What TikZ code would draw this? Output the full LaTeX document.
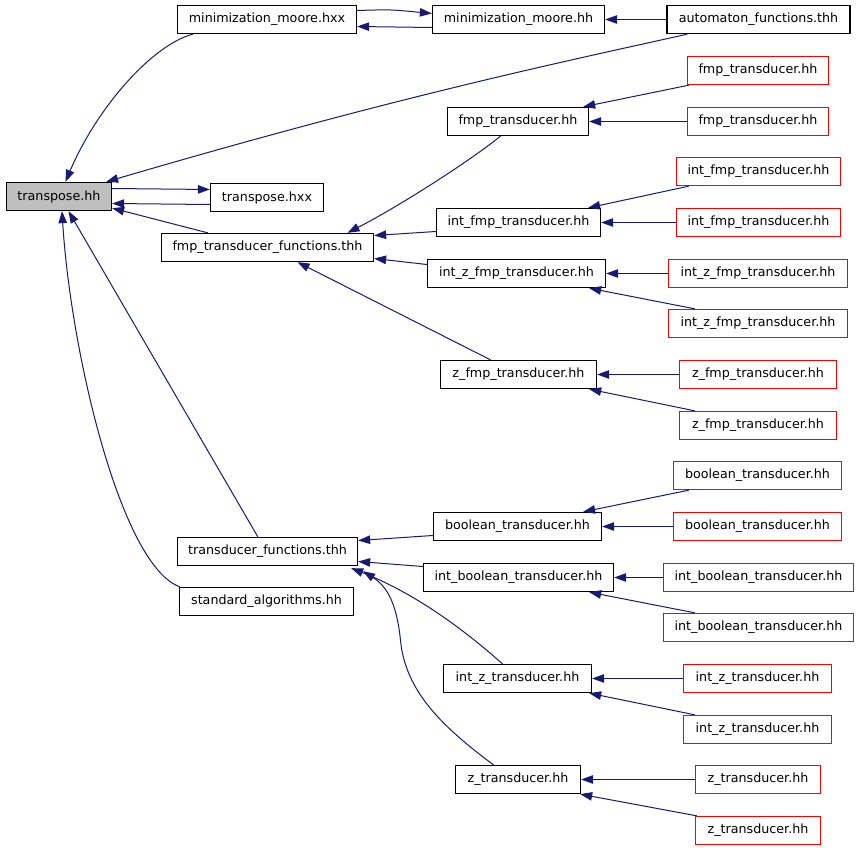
\documentclass[tikz,border=0pt]{standalone}
\usepackage{fontspec}
\setmainfont{DejaVu Sans}
\usetikzlibrary{arrows.meta}
\definecolor{edgeblue}{RGB}{25,25,112}
\definecolor{boxred}{RGB}{255,0,0}
\begin{document}
\begin{tikzpicture}[x=1pt,y=-1pt,
  box/.style={draw=black, line width=1.3pt, fill=white, minimum height=28pt, inner sep=0pt, font=\fontsize{12.7}{15}\selectfont},
  redbox/.style={box, draw=boxred},
  edge/.style={draw=edgeblue, line width=1pt, -{Triangle[length=12pt,width=8.5pt]}}]
\useasboundingbox (-0.5,-0.5) rectangle (858.5,847.5);
% nodes
\node[box, fill=black!25, minimum width=105pt] (tr) at (58.5,196) {transpose.hh};
\node[box, minimum width=179pt] (mmhxx) at (266.5,19) {minimization\_moore.hxx};
\node[box, minimum width=172pt] (mmhh) at (518,19) {minimization\_moore.hh};
\node[box, minimum width=183pt] (aft) at (758,19) {automaton\_functions.thh};
\node[box, minimum width=113pt] (trhxx) at (266.5,197) {transpose.hxx};
\node[box, minimum width=212pt] (fmpfun) at (267,247) {fmp\_transducer\_functions.thh};
\node[box, minimum width=180pt] (trfun) at (267,551) {transducer\_functions.thh};
\node[box, minimum width=174pt] (std) at (266,601) {standard\_algorithms.hh};

\node[box, minimum width=141pt] (fmpB) at (517.5,121) {fmp\_transducer.hh};
\node[redbox, minimum width=141pt] (fmpR1) at (757.5,70) {fmp\_transducer.hh};
\node[redbox, minimum width=141pt] (fmpR2) at (757.5,121) {fmp\_transducer.hh};

\node[box, minimum width=164pt] (intfmpB) at (518,222) {int\_fmp\_transducer.hh};
\node[redbox, minimum width=164pt] (intfmpR1) at (758,171) {int\_fmp\_transducer.hh};
\node[redbox, minimum width=164pt] (intfmpR2) at (758,222) {int\_fmp\_transducer.hh};

\node[box, minimum width=178pt] (intzfmpB) at (516,273) {int\_z\_fmp\_transducer.hh};
\node[redbox, minimum width=179pt] (intzfmpR1) at (757.5,273) {int\_z\_fmp\_transducer.hh};
\node[redbox, minimum width=179pt] (intzfmpR2) at (757.5,323) {int\_z\_fmp\_transducer.hh};

\node[box, minimum width=156pt] (zfmpB) at (518,374) {z\_fmp\_transducer.hh};
\node[redbox, minimum width=157pt] (zfmpR1) at (757.5,374) {z\_fmp\_transducer.hh};
\node[redbox, minimum width=157pt] (zfmpR2) at (757.5,425) {z\_fmp\_transducer.hh};

\node[box, minimum width=168pt] (boolB) at (517,526) {boolean\_transducer.hh};
\node[redbox, minimum width=168pt] (boolR1) at (757,475) {boolean\_transducer.hh};
\node[redbox, minimum width=168pt] (boolR2) at (757,526) {boolean\_transducer.hh};

\node[box, minimum width=190pt] (intboolB) at (518,577) {int\_boolean\_transducer.hh};
\node[redbox, minimum width=190pt] (intboolR1) at (758,577) {int\_boolean\_transducer.hh};
\node[redbox, minimum width=190pt] (intboolR2) at (758,627) {int\_boolean\_transducer.hh};

\node[box, minimum width=148pt] (intzB) at (517,678) {int\_z\_transducer.hh};
\node[redbox, minimum width=148pt] (intzR1) at (757,678) {int\_z\_transducer.hh};
\node[redbox, minimum width=148pt] (intzR2) at (757,729) {int\_z\_transducer.hh};

\node[box, minimum width=125pt] (zB) at (517.5,779) {z\_transducer.hh};
\node[redbox, minimum width=125pt] (zR1) at (757.5,779) {z\_transducer.hh};
\node[redbox, minimum width=125pt] (zR2) at (757.5,830) {z\_transducer.hh};

% edges to transpose.hh
\draw[edge] ([xshift=16pt]mmhxx.south west) .. controls (150,45) and (95,110) .. ([xshift=6.5pt]tr.north);
\draw[edge] ([xshift=21pt]aft.south west) .. controls (560,62) and (400,95) .. ([xshift=-6pt]tr.north east);
\draw[edge] ([yshift=8pt]tr.east) -- ([yshift=8pt]trhxx.west);
\draw[edge] ([yshift=-7pt]trhxx.west) -- ([yshift=-7pt]tr.east);
\draw[edge] ([xshift=47pt]fmpfun.north west) -- ([yshift=3pt]tr.south east);
\draw[edge] ([xshift=81pt]trfun.north west) -- ([xshift=9.5pt]tr.south);
\draw[edge] ([xshift=1pt]std.north west) .. controls (120,565) and (70,350) .. ([xshift=3pt]tr.south);

% minimization moore
\draw[edge] ([yshift=9pt]mmhxx.east) .. controls (390,9) .. ([yshift=6pt]mmhh.west);
\draw[edge] ([yshift=-8pt]mmhh.west) -- ([yshift=-7pt]mmhxx.east);
\draw[edge] (aft.west) -- (mmhh.east);

% to fmp_transducer_functions
\draw[edge] ([xshift=-17.5pt]fmpB.south) .. controls (470,160) and (400,205) .. ([xshift=80pt]fmpfun.north);
\draw[edge] ([yshift=-9pt]intfmpB.west) -- ([yshift=12pt]fmpfun.east);
\draw[edge] ([yshift=9pt]intzfmpB.west) -- ([yshift=-11pt]fmpfun.east);
\draw[edge] ([xshift=-28pt]zfmpB.north) -- ([xshift=30pt]fmpfun.south);

% red to black
\draw[edge] ([xshift=2pt]fmpR1.south west) -- ([xshift=-6pt]fmpB.north east);
\draw[edge] (fmpR2.west) -- (fmpB.east);
\draw[edge] ([xshift=13pt]intfmpR1.south west) -- ([xshift=-13pt]intfmpB.north east);
\draw[edge] (intfmpR2.west) -- (intfmpB.east);
\draw[edge] (intzfmpR1.west) -- (intzfmpB.east);
\draw[edge] ([xshift=27pt]intzfmpR2.north west) -- ([xshift=-17pt]intzfmpB.south east);
\draw[edge] (zfmpR1.west) -- (zfmpB.east);
\draw[edge] ([xshift=16pt]zfmpR2.north west) -- ([xshift=-8pt]zfmpB.south east);
\draw[edge] ([xshift=16pt]boolR1.south west) -- ([xshift=-19pt]boolB.north east);
\draw[edge] (boolR2.west) -- (boolB.east);
\draw[edge] (intboolR1.west) -- (intboolB.east);
\draw[edge] ([xshift=32pt]intboolR2.north west) -- ([xshift=-25pt]intboolB.south east);
\draw[edge] (intzR1.west) -- (intzB.east);
\draw[edge] ([xshift=12pt]intzR2.north west) -- ([xshift=-3pt]intzB.south east);
\draw[edge] (zR1.west) -- (zB.east);
\draw[edge] ([xshift=2pt]zR2.north west) -- ([xshift=-1pt]zB.south east);

% to transducer_functions
\draw[edge] ([yshift=-9pt]boolB.west) -- ([yshift=11pt]trfun.east);
\draw[edge] ([yshift=11pt]intboolB.west) -- ([yshift=-10pt]trfun.east);
\draw[edge] ([xshift=-15pt]intzB.north) .. controls (470,635) and (420,595) .. ([xshift=-7pt,yshift=-2pt]trfun.south east);
\draw[edge] ([xshift=-24.5pt]zB.north) .. controls (440,725) and (405,690) .. (400,640) .. controls (396,600) and (385,585) .. ([xshift=5pt,yshift=-5pt]trfun.south east);
\end{tikzpicture}
\end{document}
